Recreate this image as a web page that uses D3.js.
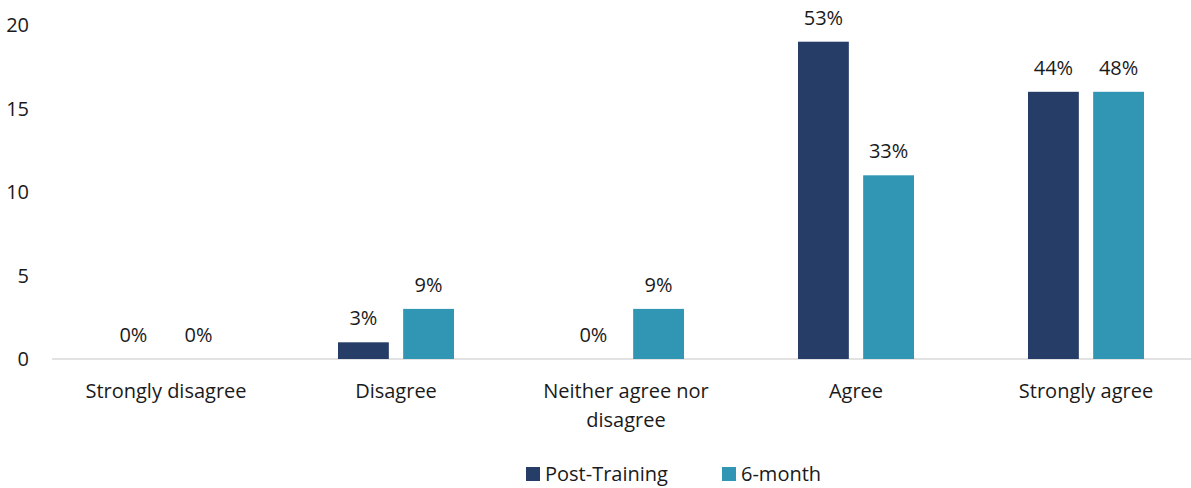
<!DOCTYPE html>
<html>
<head>
<meta charset="utf-8">
<script src="https://cdn.jsdelivr.net/npm/d3@7"></script>
<style>
  body { margin: 0; background: #fff; }
  svg text { font-family: "Open Sans", Lato, sans-serif; fill: #1a1a1a; }
</style>
</head>
<body>
<div id="chart"></div>
<script>
const categories = ["Strongly disagree", "Disagree", "Neither agree nor disagree", "Agree", "Strongly agree"];
const seriesNames = ["Post-Training", "6-month"];
const postTraining = [0, 1, 0, 19, 16];
const sixMonth = [0, 3, 3, 11, 16];
const postLabels = ["0%", "3%", "0%", "53%", "44%"];
const sixLabels = ["0%", "9%", "9%", "33%", "48%"];
const yTicks = [0, 5, 10, 15, 20];
const colors = ["#263d68", "#3096b4"];

const width = 1191, height = 488;
const fontSize = "20px";

const svg = d3.select("#chart").append("svg")
    .attr("width", width)
    .attr("height", height);

const x = d3.scaleBand().domain(categories).range([51, 1201]);
const x1 = d3.scaleBand().domain(seriesNames).range([x.bandwidth() / 2 - 58, x.bandwidth() / 2 + 58]).paddingInner(0.22);
const y = d3.scaleLinear().domain([0, 20]).range([359, 25]);

// y axis labels
svg.append("g").selectAll("text")
    .data(yTicks)
    .enter().append("text")
    .attr("x", 29)
    .attr("y", d => y(d))
    .attr("dy", "0.36em")
    .attr("text-anchor", "end")
    .style("font-size", fontSize)
    .text(d => d);

// baseline
svg.append("line")
    .attr("x1", 52).attr("x2", width)
    .attr("y1", y(0)).attr("y2", y(0))
    .attr("stroke", "#d9d9d9").attr("stroke-width", 1.5);

const rows = categories.map((c, i) => ({
    cat: c,
    vals: [
        {s: seriesNames[0], v: postTraining[i], label: postLabels[i]},
        {s: seriesNames[1], v: sixMonth[i], label: sixLabels[i]}
    ]
}));

const groups = svg.append("g").selectAll("g")
    .data(rows)
    .enter().append("g")
    .attr("transform", d => `translate(${x(d.cat)},0)`);

groups.selectAll("rect")
    .data(d => d.vals)
    .enter().append("rect")
    .attr("x", d => x1(d.s))
    .attr("width", x1.bandwidth())
    .attr("y", d => y(d.v))
    .attr("height", d => y(0) - y(d.v))
    .attr("fill", (d, i) => colors[i]);

groups.selectAll("text.val")
    .data(d => d.vals)
    .enter().append("text")
    .attr("class", "val")
    .attr("x", d => x1(d.s) + x1.bandwidth() / 2)
    .attr("y", d => y(d.v) - 17)
    .attr("text-anchor", "middle")
    .style("font-size", fontSize)
    .text(d => d.label);

// category labels, wrapped like the original
const catLines = {"Neither agree nor disagree": ["Neither agree nor", "disagree"]};
const catText = svg.append("g").selectAll("text")
    .data(categories)
    .enter().append("text")
    .attr("x", d => x(d) + x.bandwidth() / 2)
    .attr("y", 398)
    .attr("text-anchor", "middle")
    .style("font-size", fontSize);
catText.each(function(d) {
    const lines = catLines[d] || [d];
    d3.select(this).selectAll("tspan")
        .data(lines)
        .enter().append("tspan")
        .attr("x", x(d) + x.bandwidth() / 2)
        .attr("dy", (l, i) => i === 0 ? 0 : 29)
        .text(l => l);
});

// legend
const legendX = [526, 722];
const legend = svg.append("g").selectAll("g")
    .data(seriesNames)
    .enter().append("g")
    .attr("transform", (d, i) => `translate(${legendX[i]},467)`);
legend.append("rect")
    .attr("width", 14).attr("height", 14)
    .attr("fill", (d, i) => colors[i]);
legend.append("text")
    .attr("x", 19).attr("y", 7).attr("dy", "0.36em")
    .style("font-size", fontSize)
    .text(d => d);
</script>
</body>
</html>
